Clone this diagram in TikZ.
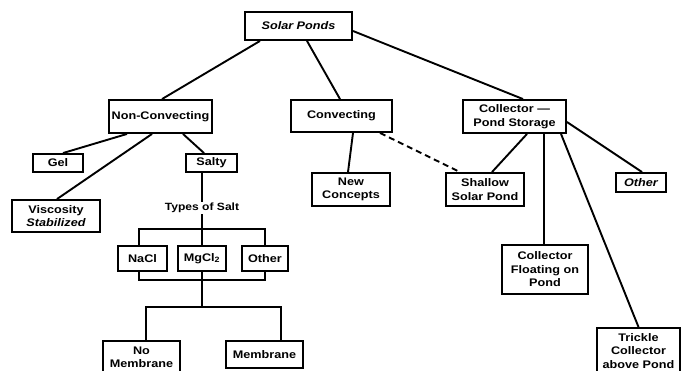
\documentclass[tikz,border=0pt]{standalone}
\usepackage{fontspec}
\setmainfont{Liberation Sans}[FakeStretch=1.15]
\usetikzlibrary{calc}
\begin{document}
\begin{tikzpicture}[x=1pt,y=-1pt,
  box/.style={draw,line width=1.9pt,inner sep=0pt,align=center,font=\fontsize{11}{13.5}\selectfont\bfseries},
  conn/.style={line width=1.9pt},
  lbl/.style={inner sep=1pt,font=\fontsize{10.5}{12}\selectfont\bfseries}]
\clip (0,0) rectangle (682,370);
\fill[white] (0,0) rectangle (682,370);
% nodes
\node[box,minimum width=107pt,minimum height=28pt] (solar) at (298.5,26) {\itshape Solar Ponds};
\node[box,minimum width=103pt,minimum height=33pt] (noncon) at (160.5,116.5) {Non-Convecting};
\node[box,minimum width=101pt,minimum height=32pt] (conv) at (341.5,116) {Convecting};
\node[box,minimum width=103pt,minimum height=33pt] (coll) at (514.5,116.5) {Collector \textemdash\\Pond Storage};
\node[box,minimum width=50pt,minimum height=18pt] (gel) at (58,163) {Gel};
\node[box,minimum width=51pt,minimum height=18pt] (salty) at (211.5,163) {Salty};
\node[box,minimum width=88pt,minimum height=32pt] (visc) at (56,216) {Viscosity\\\itshape Stabilized};
\node[lbl] (types) at (202,208) {Types of Salt};
\node[box,minimum width=49pt,minimum height=25pt] (nacl) at (142.5,258.5) {NaCl};
\node[box,minimum width=48pt,minimum height=25pt] (mgcl) at (202,258.5) {MgCl\textsubscript{2}};
\node[box,minimum width=46pt,minimum height=25pt] (osalt) at (265,258.5) {Other};
\node[box,minimum width=77pt,minimum height=33pt] (nomem) at (141.5,357.5) {No\\Membrane};
\node[box,minimum width=77pt,minimum height=27pt] (memb) at (264.5,354.5) {Membrane};
\node[box,minimum width=78pt,minimum height=33pt] (newc) at (351,189.5) {New\\Concepts};
\node[box,minimum width=78pt,minimum height=33pt] (shallow) at (485,189.5) {Shallow\\Solar Pond};
\node[box,minimum width=50pt,minimum height=19pt] (otherr) at (641,182.5) {\itshape Other};
\node[box,minimum width=86pt,minimum height=49pt] (float) at (545,269.5) {Collector\\Floating on\\Pond};
\node[box,minimum width=83pt,minimum height=46pt] (trickle) at (638.5,351) {Trickle\\Collector\\above Pond};
% helper coordinates
\coordinate (tb) at (202,229);
\coordinate (bb) at (202,280);
\coordinate (mb) at (202,307);
% connectors
\draw[conn] ([xshift=-38.5pt]solar.south) -- ([xshift=1.5pt]noncon.north);
\draw[conn] ([xshift=8.5pt]solar.south) -- ([xshift=-1.5pt]conv.north);
\draw[conn] ([yshift=-5pt]solar.east) -- ([xshift=8.5pt]coll.north);
\draw[conn] ([xshift=-33.5pt]noncon.south) -- ([xshift=5pt]gel.north);
\draw[conn] ([xshift=-8.5pt]noncon.south) -- ([xshift=1pt]visc.north);
\draw[conn] ([xshift=22.5pt]noncon.south) -- ([xshift=-7.5pt]salty.north);
\draw[conn] ([xshift=-9.5pt]salty.south) -- (types.north);
\draw[conn] (types.south) -- (tb) -- (mgcl.north);
\draw[conn] ([xshift=-3.5pt]nacl.north) |- (tb) -| (osalt.north);
\draw[conn] ([xshift=-3.5pt]nacl.south) |- (bb) -| (osalt.south);
\draw[conn] (mgcl.south) -- (bb) -- (mb);
\draw[conn] ([xshift=4.5pt]nomem.north) |- (mb) -| ([xshift=16.5pt]memb.north);
\draw[conn] ([xshift=11.5pt]conv.south) -- ([xshift=-3pt]newc.north);
\draw[conn,dash pattern=on 6pt off 4pt] ([xshift=38.5pt]conv.south) -- ([xshift=-25pt]shallow.north);
\draw[conn] ([xshift=12.5pt]coll.south) -- ([xshift=7pt]shallow.north);
\draw[conn] ([yshift=-5.5pt]coll.east) -- ([xshift=1pt]otherr.north);
\draw[conn] ([xshift=29.5pt]coll.south) -- ([xshift=-1pt]float.north);
\draw[conn] ([xshift=46.5pt]coll.south) -- (trickle.north);
\end{tikzpicture}
\end{document}
